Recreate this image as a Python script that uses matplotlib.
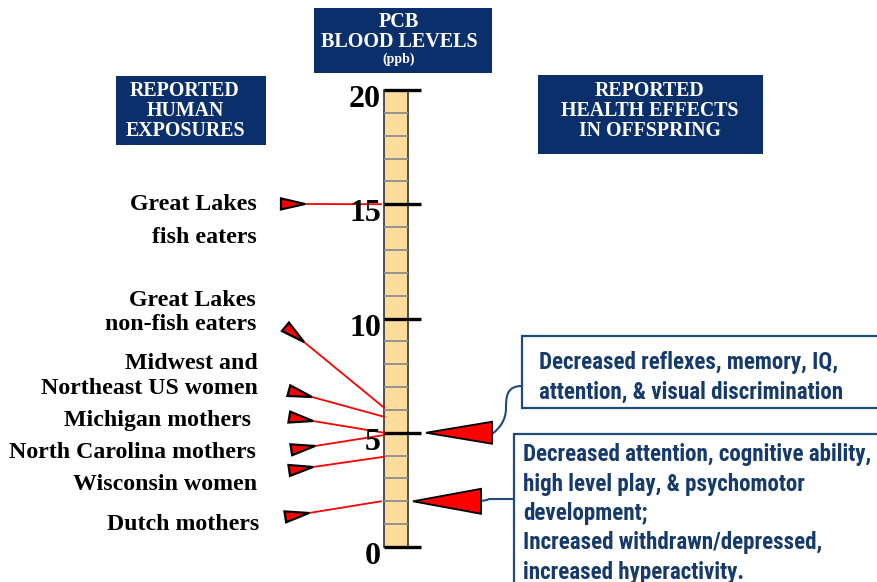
import matplotlib
matplotlib.use("Agg")
import matplotlib.pyplot as plt
from matplotlib import font_manager
from matplotlib.patches import Rectangle, Polygon, PathPatch
from matplotlib.path import Path
import numpy as np

# ---------------- data ----------------
scale_max = 20
major_ticks = [0, 5, 10, 15, 20]
minor_ticks = list(range(0, 21))

exposure_groups = ["Great Lakes\nfish eaters",
                   "Great Lakes\nnon-fish eaters",
                   "Midwest and\nNortheast US women",
                   "Michigan mothers ",
                   "North Carolina mothers",
                   "Wisconsin women",
                   "Dutch mothers"]
exposure_levels = [15.0, 6.1, 5.7, 5.0, 4.9, 3.95, 2.0]

effect_levels = [5.0, 2.0]
effect_texts = ["Decreased reflexes, memory, IQ,\nattention, & visual discrimination",
                "Decreased attention, cognitive ability,\nhigh level play, & psychomotor\n"
                "development;\nIncreased withdrawn/depressed,\nincreased hyperactivity."]

title_text = "PCB\nBLOOD LEVELS"
title_unit = "(ppb)"
left_header = "REPORTED\nHUMAN\nEXPOSURES"
right_header = "REPORTED\nHEALTH EFFECTS\nIN OFFSPRING"

# ---------------- layout ----------------
W, H = 877, 582
Y0_PX, PX_PER_UNIT = 547.0, 22.85          # pixel row of 0 ppb, pixels per ppb


def yv(py):
    """pixel row -> ppb axis value (for layout-only items)"""
    return (Y0_PX - py) / PX_PER_UNIT


NAVY = "#0b2f6b"
BLUE_TXT = "#163a6a"
EDGE_BLUE = "#1f4a7a"
BAR_FILL = "#fedd9c"
SERIF = ["Liberation Serif", "DejaVu Serif"]

# choose a condensed sans if one is installed
_names = {f.name for f in font_manager.fontManager.ttflist}
_cands = [("Liberation Sans Narrow", 16.6), ("Roboto Condensed", 16.6),
          ("Open Sans Condensed", 16.6), ("DejaVu Sans Condensed", 14.6)]
NARROW, NARROW_FS = ["Liberation Sans", "DejaVu Sans"], 14.3
for nm, fs in _cands:
    if nm in _names:
        NARROW, NARROW_FS = [nm, "DejaVu Sans"], fs
        break

fig = plt.figure(figsize=(W / 100, H / 100), dpi=100)
ax = fig.add_axes([0, 0, 1, 1])
ax.set_xlim(0, W)
ax.set_ylim(yv(H), yv(0))
ax.axis("off")


def to_px(x, v):
    return np.array([x, Y0_PX - v * PX_PER_UNIT])


def to_data(p):
    return (p[0], (Y0_PX - p[1]) / PX_PER_UNIT)


# ---------------- header boxes ----------------
def header(x0, x1, ytop, ybot, lines, cx, ys, fs):
    ax.add_patch(Rectangle((x0, yv(ybot)), x1 - x0, yv(ytop) - yv(ybot),
                           facecolor=NAVY, edgecolor="none", zorder=2))
    for line, y in zip(lines.split("\n"), ys):
        ax.text(cx, yv(y), line, ha="center", va="center", color="white",
                fontsize=fs, fontweight="bold", family=SERIF, zorder=3)


header(314, 492, 8, 73, title_text, 399, (22, 42), 14.5)
ax.text(399, yv(59.5), title_unit, ha="center", va="center", color="white",
        fontsize=10, fontweight="bold", family=SERIF, zorder=3)
header(116, 266, 76, 145, left_header, 185, (91, 111, 131), 14.3)
header(538, 763, 75, 154, right_header, 650, (91, 111, 131), 14.3)

# ---------------- scale bar ----------------
bx0, bx1 = 384, 408
ax.add_patch(Rectangle((bx0, 0), bx1 - bx0, scale_max, facecolor=BAR_FILL,
                       edgecolor="#333333", lw=1.2, zorder=2))
for t in minor_ticks:
    if t not in major_ticks:
        ax.plot([bx0, bx1], [t, t], color="#8c8c8c", lw=1.3, zorder=3,
                solid_capstyle="butt")
for t in major_ticks:
    ax.plot([bx0, 421], [t, t], color="black", lw=2.4, zorder=4,
            solid_capstyle="butt")
    ax.text(381, t - 0.42, f"{t}", ha="right", va="center", fontsize=23,
            fontweight="bold", family=SERIF, zorder=4)

# ---------------- exposures ----------------
tip_px = [(305, 204), (304, 342), (312, 397), (313, 421), (315, 446), (313, 467), (309, 513)]
line_end_x = [381, 384, 384, 384, 384, 384, 381]
label_lines_y = [(203, 236), (299, 323), (362, 387), (419,), (451,), (483,), (523,)]
label_right_x = [257, 256, 258, 257, 256, 257, 259]

for name, lvl, tp, ex, lys, rx in zip(exposure_groups, exposure_levels, tip_px,
                                      line_end_x, label_lines_y, label_right_x):
    tipd = to_data(tp)
    ax.plot([tipd[0], ex], [tipd[1], lvl], color="red", lw=1.3, zorder=3)
    end_px = to_px(ex, lvl)
    tip = np.array(tp, dtype=float)
    d = tip - end_px
    d /= np.linalg.norm(d)
    n = np.array([-d[1], d[0]])
    b = tip + 24 * d
    pts = [to_data(tip), to_data(b + 5.5 * n), to_data(b - 5.5 * n)]
    ax.add_patch(Polygon(pts, closed=True, facecolor="red", edgecolor="black",
                         lw=1.6, zorder=4, joinstyle="miter"))
    for line, ly in zip(name.split("\n"), lys):
        ax.text(rx, yv(ly + 1.5), line, ha="right", va="center", fontsize=17.2,
                fontweight="bold", family=SERIF, zorder=4)

# ---------------- health effects ----------------
big_tri = [(426, 492, 11), (413, 481, 12.5)]
for lvl, (tx, bxp, hh) in zip(effect_levels, big_tri):
    ty = Y0_PX - lvl * PX_PER_UNIT
    pts = [to_data((tx, ty)), to_data((bxp, ty - hh)), to_data((bxp, ty + hh))]
    ax.add_patch(Polygon(pts, closed=True, facecolor="red", edgecolor="black",
                         lw=1.3, zorder=4, joinstyle="miter"))

boxes = [(522, 336, 900, 408), (514, 434, 900, 600)]
text_pos = [(539, 362, 30.5), (523, 455, 29.3)]
for (x0, yt, x1, yb), (tx, ty, step), txt in zip(boxes, text_pos, effect_texts):
    ax.add_patch(Rectangle((x0, yv(yb)), x1 - x0, yv(yt) - yv(yb), facecolor="white",
                           edgecolor=EDGE_BLUE, lw=1.6, zorder=2, clip_on=True))
    for i, line in enumerate(txt.split("\n")):
        ax.text(tx, yv(ty + i * step), line, ha="left", va="center",
                fontsize=NARROW_FS, fontweight="bold", family=NARROW,
                color=BLUE_TXT, zorder=3)

# connectors
c1 = [(492, 434), (500, 428), (506, 420), (506, 408),
      (506, 396), (507, 386), (522, 386)]
codes = [Path.MOVETO, Path.CURVE4, Path.CURVE4, Path.CURVE4,
         Path.CURVE4, Path.CURVE4, Path.CURVE4]
ax.add_patch(PathPatch(Path([to_data(p) for p in c1], codes), facecolor="none",
                       edgecolor=EDGE_BLUE, lw=1.5, zorder=3))
c2 = [(481, 501), (487, 500), (489, 499), (514, 499)]
ax.plot([to_data(p)[0] for p in c2], [to_data(p)[1] for p in c2],
        color=EDGE_BLUE, lw=1.5, zorder=3)

fig.savefig("out.png", dpi=100, facecolor="white")
